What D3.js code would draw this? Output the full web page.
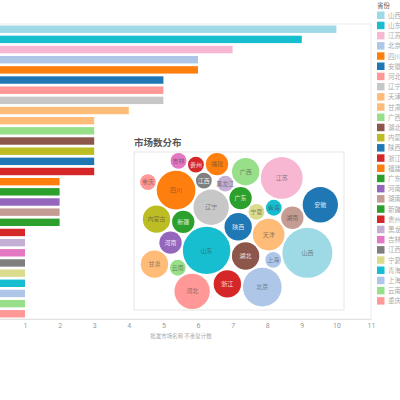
<!DOCTYPE html>
<html>
<head>
<meta charset="utf-8">
<script src="https://cdnjs.cloudflare.com/ajax/libs/d3/7.8.5/d3.min.js"></script>
<style>
  body { margin: 0; background: #fff; }
  svg { display: block; font-family: "Noto Sans CJK SC", "Noto Sans", sans-serif; }
</style>
</head>
<body>
<div id="chart"></div>
<script>
// Provinces, sorted by number of markets
var provinces = ["山西", "山东", "江苏", "北京", "四川", "安徽", "河北", "辽宁", "天津", "甘肃",
    "广西", "湖北", "内蒙古", "陕西", "浙江", "福建", "广东", "河南", "湖南", "新疆",
    "贵州", "黑龙江", "吉林", "江西", "宁夏", "青海", "上海", "云南", "重庆"];
var marketCounts = [10, 9, 7, 6, 6, 5, 5, 5, 4, 3,
    3, 3, 3, 3, 3, 2, 2, 2, 2, 2,
    1, 1, 1, 1, 1, 1, 1, 1, 1];
var provinceColors = ["#9edae5", "#17becf", "#f7b6d2", "#aec7e8", "#ff7f0e", "#1f77b4", "#ff9896", "#c7c7c7", "#ffbb78", "#ffbb78",
    "#98df8a", "#8c564b", "#bcbd22", "#1f77b4", "#d62728", "#ff7f0e", "#2ca02c", "#9467bd", "#c49c94", "#2ca02c",
    "#d62728", "#c5b0d5", "#e377c2", "#7f7f7f", "#dbdb8d", "#17becf", "#aec7e8", "#98df8a", "#ff9896"];
var xTicks = [1, 2, 3, 4, 5, 6, 7, 8, 9, 10, 11];
var xTitle = "批发市场名称 不重复计数";
var legendTitle = "省份";
var bubbleTitle = "市场数分布";

var width = 400, height = 400;
var svg = d3.select("#chart").append("svg")
    .attr("width", width)
    .attr("height", height);

// ---- bar chart (left part is cut off like in the original) ----
var plot = { left: -9.6, right: 371, top: 24, bottom: 319 };

var xLinearScale = d3.scaleLinear()
    .domain([0, 11])
    .range([plot.left, plot.right]);

var yBand = d3.scaleBand()
    .domain(provinces)
    .range([plot.top, plot.bottom])
    .paddingInner(0.27)
    .paddingOuter(0.15);

// plot frame
svg.append("rect")
    .attr("x", plot.left)
    .attr("y", plot.top)
    .attr("width", plot.right - plot.left)
    .attr("height", plot.bottom - plot.top)
    .attr("fill", "none")
    .attr("stroke", "#ececec");

svg.append("g").selectAll("rect")
    .data(provinces)
    .enter()
    .append("rect")
    .attr("x", xLinearScale(0))
    .attr("y", d => yBand(d))
    .attr("width", (d, i) => xLinearScale(marketCounts[i]) - xLinearScale(0))
    .attr("height", yBand.bandwidth())
    .attr("fill", (d, i) => provinceColors[i]);

var bottomAxis = d3.axisBottom(xLinearScale)
    .tickValues(xTicks)
    .tickSize(0)
    .tickPadding(4);

var xAxisGroup = svg.append("g")
    .attr("transform", `translate(0, ${plot.bottom})`)
    .call(bottomAxis);
xAxisGroup.select(".domain").attr("stroke", "#e2e2e2");
xAxisGroup.selectAll("text")
    .attr("fill", "#999")
    .style("font-size", "7px")
    .style("font-family", "Roboto, sans-serif");

svg.append("text")
    .attr("x", 181)
    .attr("y", 338)
    .attr("text-anchor", "middle")
    .attr("fill", "#aaa")
    .style("font-size", "5.5px")
    .text(xTitle);

// ---- legend ----
var legend = svg.append("g").attr("transform", "translate(377, 0)");
legend.append("text")
    .attr("x", 0)
    .attr("y", 8)
    .attr("fill", "#555")
    .style("font-size", "6.5px")
    .text(legendTitle);

var legendY = d3.scaleBand()
    .domain(provinces)
    .range([11.5, 11.5 + 10.2 * provinces.length]);

var legendItems = legend.selectAll("g.item")
    .data(provinces)
    .enter()
    .append("g")
    .attr("class", "item")
    .attr("transform", d => `translate(0, ${legendY(d)})`);
legendItems.append("rect")
    .attr("width", 7.5)
    .attr("height", 7.5)
    .attr("fill", (d, i) => provinceColors[i]);
legendItems.append("text")
    .attr("x", 11)
    .attr("y", 6.3)
    .attr("fill", "#aaa")
    .style("font-size", "6.5px")
    .text(d => d);

// ---- bubble panel ----
var panel = { x: 134, y: 152, w: 210, h: 158 };

svg.append("text")
    .attr("x", panel.x)
    .attr("y", panel.y - 6)
    .attr("fill", "#555")
    .style("font-size", "9.5px")
    .style("font-weight", "bold")
    .text(bubbleTitle);

svg.append("rect")
    .attr("x", panel.x)
    .attr("y", panel.y)
    .attr("width", panel.w)
    .attr("height", panel.h)
    .attr("fill", "#fff")
    .attr("stroke", "#e6e6e6");

var rScale = d3.scaleSqrt().domain([0, 10]).range([0, 25]);

var nodes = provinces.map((p, i) => ({ name: p, value: marketCounts[i], color: provinceColors[i], r: rScale(marketCounts[i]) }));

// bubble cloud: gentle pull to the centre, mild repulsion so it fills the panel
var cx = panel.x + panel.w / 2, cy = panel.y + panel.h / 2;
var sim = d3.forceSimulation(nodes)
    .force("x", d3.forceX(cx).strength(0.025))
    .force("y", d3.forceY(cy).strength(0.045))
    .force("charge", d3.forceManyBody().strength(-2.5).distanceMax(50))
    .force("collide", d3.forceCollide(d => d.r + 1).iterations(4))
    .stop();

for (var t = 0; t < 600; t++) {
    sim.tick();
    nodes.forEach(function (d) {
        d.x = Math.max(panel.x + d.r + 6, Math.min(panel.x + panel.w - d.r - 6, d.x));
        d.y = Math.max(panel.y + d.r + 1, Math.min(panel.y + panel.h - d.r - 1, d.y));
    });
}

function labelColor(c) {
    var rgb = d3.rgb(c);
    var lum = (0.299 * rgb.r + 0.587 * rgb.g + 0.114 * rgb.b) / 255;
    return lum < 0.5 ? "rgba(255,255,255,0.85)" : "rgba(60,60,60,0.6)";
}

var bubbles = svg.append("g").selectAll("g")
    .data(nodes)
    .enter()
    .append("g")
    .attr("transform", d => `translate(${d.x}, ${d.y})`);
bubbles.append("circle")
    .attr("r", d => d.r)
    .attr("fill", d => d.color);
bubbles.append("text")
    .attr("text-anchor", "middle")
    .attr("dy", "0.35em")
    .attr("fill", d => labelColor(d.color))
    .style("font-size", "6px")
    .text(d => d.name);
</script>
</body>
</html>
